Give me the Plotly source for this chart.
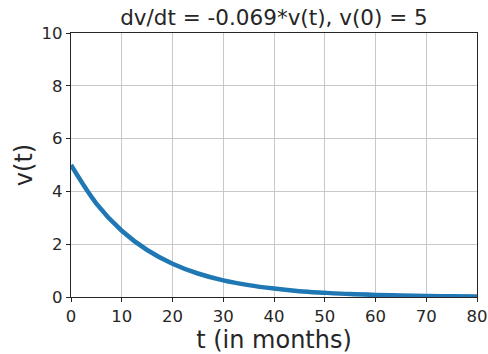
import plotly.graph_objects as go

t_months = [0, 5, 10, 15, 20, 25, 30, 35, 40, 45, 50, 55, 60, 65, 70, 75, 80]
v_values = [5.0, 3.54, 2.51, 1.78, 1.26, 0.89, 0.63, 0.45, 0.32, 0.22, 0.16, 0.11, 0.08, 0.06, 0.04, 0.03, 0.02]
x_ticks = [0, 10, 20, 30, 40, 50, 60, 70, 80]
y_ticks = [0, 2, 4, 6, 8, 10]

fig = go.Figure()
fig.add_trace(go.Scatter(x=t_months, y=v_values, mode="lines",
                         line=dict(color="#1f77b4", width=4.5, shape="spline")))

font = "DejaVu Sans, sans-serif"
fig.update_layout(
    width=488, height=354,
    margin=dict(l=71, r=11, t=33, b=57, autoexpand=False),
    paper_bgcolor="white", plot_bgcolor="white",
    showlegend=False,
    font=dict(family=font, color="#262626"),
    title=dict(text="dv/dt = -0.069*v(t), v(0) = 5", xref="paper", x=0.5, xanchor="center",
               yref="container", y=0.95, yanchor="middle", font=dict(size=21.5, color="#262626")),
)
axis_common = dict(showgrid=True, gridcolor="#c8c8c8", gridwidth=1,
                   showline=True, linecolor="#262626", linewidth=1.2, mirror=True,
                   ticks="outside", ticklen=4, tickcolor="#262626",
                   tickfont=dict(size=16.5, family=font, color="#262626"),
                   zeroline=False, automargin=False)
fig.update_xaxes(range=[0, 80], tickvals=x_ticks,
                 title=dict(text="t (in months)", font=dict(size=24, family=font), standoff=2),
                 **axis_common)
fig.update_yaxes(range=[0, 10], tickvals=y_ticks,
                 title=dict(text="v(t)", font=dict(size=24, family=font), standoff=2),
                 **axis_common)

fig.write_html("out.html")
